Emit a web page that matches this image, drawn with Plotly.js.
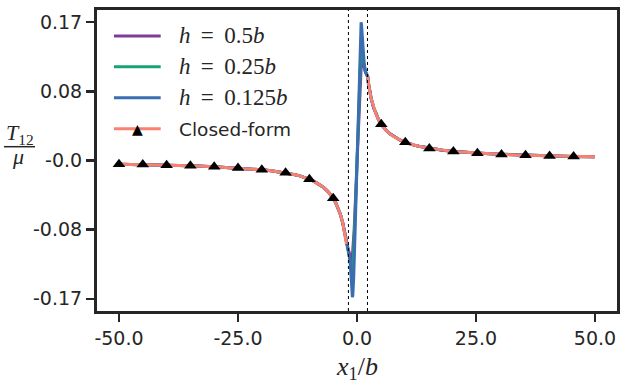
<!DOCTYPE html>
<html>
<head>
<meta charset="utf-8">
<script src="https://cdn.plot.ly/plotly-3.0.1.min.js"></script>
<style>
  body { margin: 0; background: #fff; }
  #chart { width: 626px; height: 387px; }
</style>
</head>
<body>
<div id="chart"></div>
<script>
// closed-form curve, left and right of the core
var xCfL = [-50, -45, -40, -35, -30, -25, -22, -20, -18, -17, -15, -13, -12, -11, -10, -9, -8, -7, -6, -5.5, -5, -4.5, -4, -3.5, -3, -2.7, -2.4, -2.2];
var yCfL = [-0.0045, -0.0050, -0.0057, -0.0065, -0.0076, -0.0091, -0.0103, -0.0114, -0.0126, -0.0134, -0.0152, -0.0175, -0.0189, -0.0208, -0.0232, -0.0257, -0.0290, -0.0332, -0.0388, -0.0425, -0.0465, -0.0515, -0.0578, -0.0659, -0.0765, -0.0848, -0.0950, -0.1025];
var xCfR = [2.25, 2.4, 2.7, 3, 3.5, 4, 4.5, 5, 5.5, 6, 7, 8, 9, 10, 11, 12, 13, 15, 17, 18, 20, 22, 25, 30, 35, 40, 45, 50];
var yCfR = [0.1030, 0.0946, 0.0841, 0.0757, 0.0649, 0.0568, 0.0505, 0.0452, 0.0413, 0.0379, 0.0324, 0.0284, 0.0252, 0.0227, 0.0206, 0.0189, 0.0175, 0.0152, 0.0134, 0.0126, 0.0114, 0.0103, 0.0091, 0.0076, 0.0065, 0.0057, 0.0050, 0.0045];

// markers on the closed-form curve
var xMk = [-50, -45, -40, -35, -30, -25, -20, -15, -10, -5, 5.1, 10.15, 15.2, 20.25, 25.3, 30.35, 35.4, 40.45, 45.5];
var yMk = [-0.0045, -0.0050, -0.0057, -0.0065, -0.0076, -0.0091, -0.0114, -0.0152, -0.0232, -0.0465, 0.0445, 0.0224, 0.0149, 0.0112, 0.0090, 0.0075, 0.0064, 0.0056, 0.0050];

// numerical solutions inside the core (outside they sit on the closed form)
var xCore05 = [-1.9, -1.6, -1.4, -1.25, -1.15, -1.0, -0.6, -0.2, 0, 0.3, 0.6, 0.85, 0.95, 1.05, 1.25, 1.5, 1.8, 2.05];
var yCore05 = [-0.108, -0.114, -0.119, -0.123, -0.1245, -0.120, -0.086, -0.030, 0.0, 0.043, 0.088, 0.121, 0.1255, 0.124, 0.119, 0.113, 0.108, 0.105];
var xCore025 = [-1.9, -1.6, -1.4, -1.2, -1.05, -0.9, -0.5, -0.2, 0, 0.25, 0.55, 0.8, 0.9, 1.0, 1.2, 1.45, 1.75, 2.05];
var yCore025 = [-0.108, -0.116, -0.125, -0.139, -0.146, -0.140, -0.092, -0.037, 0.0, 0.047, 0.100, 0.143, 0.148, 0.145, 0.131, 0.119, 0.110, 0.105];
var xCore0125 = [-1.9, -1.6, -1.4, -1.2, -1.05, -0.97, -0.88, -0.7, -0.45, -0.2, 0, 0.2, 0.45, 0.65, 0.78, 0.86, 0.95, 1.1, 1.3, 1.5, 1.75, 2.05];
var yCore0125 = [-0.108, -0.117, -0.128, -0.150, -0.164, -0.168, -0.166, -0.145, -0.097, -0.043, 0.0, 0.044, 0.100, 0.147, 0.166, 0.170, 0.167, 0.153, 0.133, 0.120, 0.110, 0.105];

// core bounds (dotted lines)
var coreBounds = [-1.8, 2.2];

var xTicks = [-50, -25, 0, 25, 50];
var xTickText = ['-50.0', '-25.0', '0.0', '25.0', '50.0'];
var yTicks = [-0.17, -0.085, 0, 0.085, 0.17];
var yTickText = ['-0.17', '-0.08', '-0.0', '0.08', '0.17'];

var names = ['<i>h</i> \u2009=\u2009 0.5<i>b</i>', '<i>h</i> \u2009=\u2009 0.25<i>b</i>', '<i>h</i> \u2009=\u2009 0.125<i>b</i>'];
var colors = ['#7d3c98', '#17a372', '#3b6db3'];
var salmon = '#fa8072';
var ink = '#262626';

function numeric(xc, yc, color) {
    return {
        x: xCfL.concat(xc, xCfR),
        y: yCfL.concat(yc, yCfR),
        mode: 'lines',
        line: {color: color, width: 3},
        showlegend: false,
        hoverinfo: 'skip'
    };
}

var data = [
    numeric(xCore05, yCore05, colors[0]),
    numeric(xCore025, yCore025, colors[1]),
    numeric(xCore0125, yCore0125, colors[2]),
    {
        x: xCfL.concat([null], xCfR),
        y: yCfL.concat([null], yCfR),
        mode: 'lines',
        line: {color: salmon, width: 3},
        connectgaps: false,
        showlegend: false
    },
    {
        x: xMk,
        y: yMk,
        mode: 'markers',
        marker: {symbol: 'triangle-up', size: 11, color: 'black'},
        showlegend: false
    }
];

// plot area in px: x 97..617, y 10..311
function px(p) { return (p - 97) / 520; }
function py(p) { return (311 - p) / 301; }

var shapes = coreBounds.map(function (b) {
    return {type: 'line', xref: 'x', yref: 'paper', x0: b, x1: b, y0: 0, y1: 1,
            line: {color: 'black', width: 1, dash: 'dot'}};
});

var legY = [36, 66.7, 97.7, 128.7];
var legColors = colors.concat([salmon]);
legY.forEach(function (y, i) {
    shapes.push({type: 'line', xref: 'paper', yref: 'paper',
                 x0: px(114), x1: px(160.7), y0: py(y), y1: py(y),
                 line: {color: legColors[i], width: 3}});
});
// fraction bar of the y label
shapes.push({type: 'line', xref: 'paper', yref: 'paper',
             x0: px(4), x1: px(35), y0: py(146.7), y1: py(146.7),
             line: {color: ink, width: 1.5}});

var serif = 'Liberation Serif, Times New Roman, serif';
var annotations = [];
names.forEach(function (n, i) {
    annotations.push({xref: 'paper', yref: 'paper', x: px(177), y: py(legY[i] - 0.5),
                      xanchor: 'left', yanchor: 'middle', showarrow: false, text: n,
                      font: {family: serif, size: 23, color: ink}});
});
annotations.push({xref: 'paper', yref: 'paper', x: px(177), y: py(legY[3] + 1),
                  xanchor: 'left', yanchor: 'middle', showarrow: false, text: 'Closed-form',
                  font: {family: 'DejaVu Sans', size: 18.5, color: ink}});
annotations.push({xref: 'paper', yref: 'paper', x: px(137), y: py(128.7),
                  xanchor: 'center', yanchor: 'middle', showarrow: false, text: '\u25B2',
                  font: {family: 'DejaVu Sans', size: 14, color: 'black'}});
annotations.push({xref: 'paper', yref: 'paper', x: px(19.5), y: py(134),
                  xanchor: 'center', yanchor: 'middle', showarrow: false,
                  text: '<i>T</i><sub>12</sub>', font: {family: serif, size: 22, color: ink}});
annotations.push({xref: 'paper', yref: 'paper', x: px(18), y: py(156),
                  xanchor: 'center', yanchor: 'middle', showarrow: false,
                  text: '<i>\u03BC</i>', font: {family: serif, size: 22, color: ink}});
annotations.push({xref: 'paper', yref: 'paper', x: px(357), y: py(368),
                  xanchor: 'center', yanchor: 'middle', showarrow: false,
                  text: '<i>x</i><sub>1</sub>/<i>b</i>', font: {family: serif, size: 26, color: ink}});

var axisCommon = {
    showline: true, mirror: true, linewidth: 3, linecolor: ink,
    ticks: 'outside', ticklen: 8, tickwidth: 2.5, tickcolor: ink,
    showgrid: false, zeroline: false,
    tickfont: {family: 'DejaVu Sans', size: 19, color: ink}
};

var layout = {
    width: 626, height: 387,
    margin: {l: 97, r: 9, t: 10, b: 76},
    paper_bgcolor: 'white', plot_bgcolor: 'white',
    showlegend: false,
    xaxis: Object.assign({}, axisCommon, {range: [-54.62, 54.62], tickvals: xTicks, ticktext: xTickText}),
    yaxis: Object.assign({}, axisCommon, {range: [-0.185, 0.185], tickvals: yTicks, ticktext: yTickText}),
    shapes: shapes,
    annotations: annotations
};

Plotly.newPlot('chart', data, layout, {displayModeBar: false, staticPlot: true});
</script>
</body>
</html>
